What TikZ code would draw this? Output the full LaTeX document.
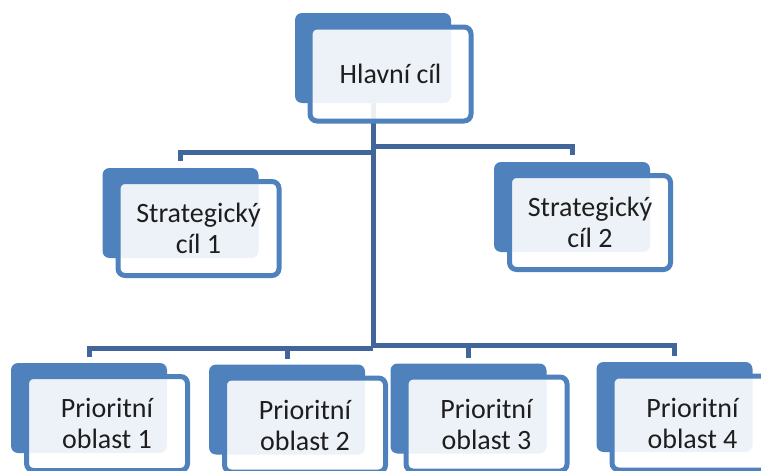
\documentclass[tikz,border=0pt]{standalone}
\usepackage{fontspec}
\setmainfont{Carlito}
\definecolor{boxblue}{RGB}{79,129,189}
\definecolor{linkblue}{RGB}{64,102,156}
\definecolor{textgray}{RGB}{30,30,30}
\begin{document}
\begin{tikzpicture}[
  x = 1pt,
  y = -1pt,
  back/.style = {
    shape = rectangle,
    fill = boxblue,
    rounded corners = 7pt,
    minimum width = 156pt,
    minimum height = 90pt,
    inner sep = 0pt,
    outer sep = 0pt,
  },
  front/.style = {
    shape = rectangle,
    draw = boxblue,
    line width = 5pt,
    fill = white,
    fill opacity = 0.9,
    text opacity = 1,
    text = textgray,
    rounded corners = 7pt,
    minimum width = 161pt,
    minimum height = 94pt,
    inner sep = 0pt,
    align = center,
    font = \fontsize{28}{31}\selectfont,
  },
  link/.style = {
    draw = linkblue,
    line width = 5pt,
  }
]
  \useasboundingbox (0, 0) rectangle (761, 471);
  \clip (0, 0) rectangle (761, 471);

  \draw node[back] (Hb) at (373, 58) {};
  \draw node[back] (S1b) at (180.5, 213) {};
  \draw node[back] (S2b) at (572, 207) {};
  \draw node[back] (P1b) at (89, 408) {};
  \draw node[back] (P2b) at (287, 409.5) {};
  \draw node[back] (P3b) at (468.5, 408.5) {};
  \draw node[back] (P4b) at (674.5, 407) {};

  \draw[link] (Hb.south) -- (Hb |- 0, 348);
  \draw[link] ([yshift = 7pt]S1b.north) |- (Hb |- 0, 152);
  \draw[link] ([yshift = 7pt]S2b.north) |- (Hb |- 0, 146);
  \draw[link] ([yshift = 6pt]P1b.north) |- (Hb |- 0, 348);
  \draw[link] ([yshift = 6pt]P2b.north) |- (Hb |- 0, 348);
  \draw[link] ([yshift = 6pt]P3b.north) |- (Hb |- 0, 345);
  \draw[link] ([yshift = 6pt]P4b.north) |- (Hb |- 0, 345);

  \draw node[front] (H) at (390.5, 74) {Hlavní cíl};
  \draw node[front] (S1) at (198.5, 228.5) {Strategický\\cíl 1};
  \draw node[front] (S2) at (590, 222.5) {Strategický\\cíl 2};
  \draw node[front] (P1) at (107, 423.5) {Prioritní\\oblast 1};
  \draw node[front] (P2) at (305, 425) {Prioritní\\oblast 2};
  \draw node[front] (P3) at (486.5, 424) {Prioritní\\oblast 3};
  \draw node[front] (P4) at (692.5, 423) {Prioritní\\oblast 4};
\end{tikzpicture}
\end{document}
